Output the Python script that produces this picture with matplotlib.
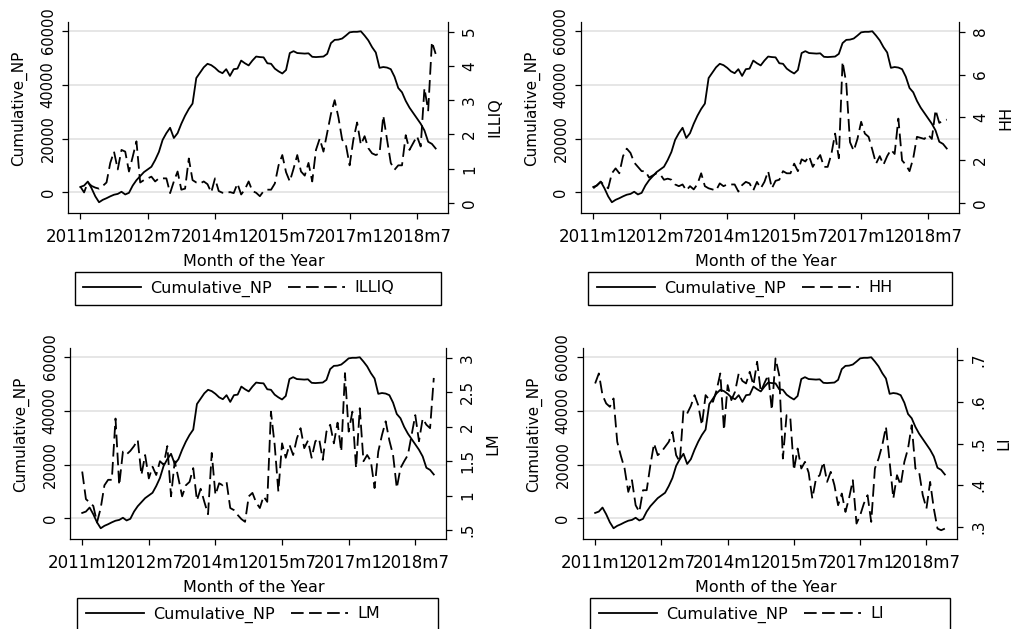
import numpy as np
import matplotlib
matplotlib.use("Agg")
import matplotlib.pyplot as plt
from matplotlib.patches import Rectangle

plt.rcParams["font.family"] = "DejaVu Sans"

# monthly observations 2011m1 .. 2018m12
months = np.arange(96)
xtick_pos = [0, 18, 36, 54, 72, 90]
xtick_labels = ["2011m1", "2012m7", "2014m1", "2015m7", "2017m1", "2018m7"]

cumulative_np = [
    2000, 2500, 4000, 1500, -1500, -3700, -2800, -2200, -1500, -900, -600, 200,
    -800, -200, 2500, 4500, 6000, 7500, 8500, 9500, 12000, 15000, 19500, 22000,
    24000, 20200, 22000, 25500, 28500, 31000, 33000, 42500, 44500, 46500, 47800, 47300,
    46300, 45000, 44300, 45800, 43300, 45800, 46000, 49000, 48000, 47200, 49000, 50500,
    50300, 50200, 48000, 47800, 46000, 45000, 44200, 45500, 51800, 52500, 51800, 51700,
    51600, 51700, 50400, 50300, 50400, 50500, 51500, 55500, 56700, 56800, 57200, 58300,
    59500, 59700, 59700, 59900, 58300, 56500, 54000, 52000, 46300, 46600, 46400, 45800,
    43000, 38800, 37200, 34000, 31500, 29500, 27500, 25500, 23000, 18800, 18000, 16300,
]
illiq = [
    0.48, 0.31, 0.6, 0.5, 0.45, 0.42, 0.5, 0.6, 1.17, 1.5, 0.98, 1.55,
    1.5, 0.92, 1.35, 1.8, 0.6, 0.67, 0.72, 0.77, 0.63, 0.72, 0.72, 0.72,
    0.29, 0.63, 0.92, 0.39, 0.42, 1.3, 0.67, 0.6, 0.57, 0.63, 0.55, 0.31,
    0.72, 0.35, 0.3, 0.29, 0.32, 0.29, 0.57, 0.25, 0.4, 0.63, 0.35, 0.3,
    0.2, 0.35, 0.39, 0.39, 0.57, 1.1, 1.4, 0.9, 0.63, 1.0, 1.4, 0.92,
    0.8, 1.17, 0.63, 1.55, 1.88, 1.5, 2.05, 2.6, 3.0, 2.5, 1.85, 1.7,
    1.1, 1.85, 2.35, 1.7, 1.95, 1.6, 1.45, 1.4, 1.45, 2.55, 1.85, 1.17,
    0.97, 1.1, 1.1, 1.98, 1.55, 1.75, 1.95, 1.65, 3.35, 2.7, 4.7, 4.35,
]
hh = [
    0.7, 0.85, 1.0, 0.85, 0.7, 1.4, 1.63, 1.4, 2.2, 2.55, 2.35, 1.9,
    1.7, 1.5, 1.5, 1.2, 1.3, 1.4, 1.35, 1.1, 1.15, 1.1, 0.88, 0.8,
    0.88, 0.6, 0.8, 0.65, 0.9, 1.4, 0.8, 0.7, 0.65, 0.6, 0.93, 0.8,
    0.88, 0.88, 0.88, 0.55, 0.85, 1.0, 0.93, 0.6, 1.0, 0.7, 1.0, 1.5,
    0.7, 1.05, 1.1, 1.5, 1.4, 1.4, 1.85, 1.5, 2.05, 1.95, 2.2, 1.7,
    2.0, 2.25, 1.7, 1.7, 2.3, 3.25, 2.1, 6.6, 5.6, 2.85, 2.45, 3.0,
    3.8, 3.25, 3.1, 2.5, 1.85, 2.2, 1.8, 2.2, 2.5, 2.3, 3.95, 2.0,
    1.8, 1.5, 2.1, 3.1, 3.05, 3.0, 3.2, 3.0, 4.35, 3.75, 3.85, 3.9,
]
lm = [
    1.35, 0.95, 0.9, 0.85, 0.61, 0.82, 1.15, 1.23, 1.23, 2.12, 1.15, 1.64,
    1.6, 1.65, 1.72, 1.81, 1.3, 1.59, 1.25, 1.42, 1.3, 1.5, 1.45, 1.72,
    0.99, 1.5, 1.25, 0.99, 1.15, 1.2, 1.4, 0.93, 1.1, 0.91, 0.73, 1.62,
    1.01, 1.18, 1.15, 1.2, 0.82, 0.79, 0.72, 0.66, 0.62, 0.99, 1.04, 0.9,
    0.82, 0.99, 0.91, 2.22, 1.74, 1.06, 1.76, 1.55, 1.74, 1.59, 1.83, 1.98,
    1.69, 1.8, 1.55, 1.79, 1.83, 1.52, 1.93, 2.03, 1.76, 2.06, 1.64, 2.78,
    1.93, 2.22, 1.4, 2.27, 1.5, 1.59, 1.5, 1.11, 1.64, 1.88, 2.08, 1.8,
    1.59, 1.11, 1.4, 1.5, 1.59, 1.88, 2.17, 1.79, 2.12, 2.03, 1.98, 2.71,
]
li = [
    0.644, 0.668, 0.616, 0.596, 0.588, 0.608, 0.504, 0.47, 0.44, 0.384, 0.412, 0.352,
    0.336, 0.388, 0.388, 0.448, 0.5, 0.472, 0.48, 0.492, 0.504, 0.528, 0.472, 0.456,
    0.58, 0.572, 0.59, 0.616, 0.592, 0.544, 0.616, 0.605, 0.6, 0.628, 0.668, 0.532,
    0.64, 0.604, 0.624, 0.668, 0.65, 0.644, 0.672, 0.64, 0.696, 0.624, 0.645, 0.664,
    0.58, 0.704, 0.664, 0.464, 0.568, 0.564, 0.436, 0.488, 0.44, 0.456, 0.43, 0.368,
    0.416, 0.424, 0.456, 0.408, 0.432, 0.4, 0.352, 0.38, 0.336, 0.37, 0.412, 0.308,
    0.328, 0.356, 0.376, 0.312, 0.44, 0.464, 0.496, 0.54, 0.456, 0.368, 0.424, 0.4,
    0.456, 0.488, 0.544, 0.44, 0.432, 0.376, 0.344, 0.408, 0.344, 0.296, 0.292, 0.296,
]

np_ticks = [0, 20000, 40000, 60000]
illiq_ticks = [0, 1, 2, 3, 4, 5]
illiq_labels = ["0", "1", "2", "3", "4", "5"]
hh_ticks = [0, 2, 4, 6, 8]
hh_labels = ["0", "2", "4", "6", "8"]
lm_ticks = [0.5, 1, 1.5, 2, 2.5, 3]
lm_labels = [".5", "1", "1.5", "2", "2.5", "3"]
li_ticks = [0.3, 0.4, 0.5, 0.6, 0.7]
li_labels = [".3", ".4", ".5", ".6", ".7"]

W, H = 1024, 629
fig = plt.figure(figsize=(W / 100, H / 100), dpi=100)


def px_rect(x0, y0, x1, y1):
    return [x0 / W, 1 - y1 / H, (x1 - x0) / W, (y1 - y0) / H]


def panel(box, name, values, rticks, rlabels, rlim, legbox, leg_x):
    x0, y0, x1, y1 = box
    w, h = x1 - x0, y1 - y0
    ax = fig.add_axes(px_rect(*box))
    ax2 = ax.twinx()

    solid, = ax.plot(months, cumulative_np, color="black", lw=1.3)
    dashed, = ax2.plot(months, values, color="black", lw=1.3, ls=(0, (7, 3)))

    ax.set_xlim(-3.3, 98.3)
    ax.set_ylim(-7700, 63350)
    ax2.set_ylim(*rlim)
    ax.set_xticks(xtick_pos, xtick_labels)
    ax.set_yticks(np_ticks, [str(t) for t in np_ticks])
    ax2.set_yticks(rticks, rlabels)

    ax.grid(axis="y", color="#e6e6e6", lw=1.4)
    ax.set_axisbelow(True)
    for s in ("top", "right"):
        ax.spines[s].set_visible(False)
    for s in ("top", "left", "bottom"):
        ax2.spines[s].set_visible(False)
    for sp in (ax.spines["left"], ax.spines["bottom"], ax2.spines["right"]):
        sp.set_linewidth(0.9)

    ax.tick_params(axis="x", length=4.5, width=0.9, pad=6, labelsize=12)
    ax.tick_params(axis="y", length=4.5, width=0.9, pad=4.5, labelsize=10.5,
                   labelrotation=90)
    ax2.tick_params(axis="y", length=4.5, width=0.9, pad=5.5, labelsize=11,
                    labelrotation=90)
    for t in ax.get_yticklabels() + ax2.get_yticklabels():
        t.set_va("center")

    ax.set_xlabel("Month of the Year", fontsize=11.5, va="center")
    ax.xaxis.set_label_coords(0.49, -49 / h)
    ax.set_ylabel("Cumulative_NP", fontsize=11, va="center")
    ax.yaxis.set_label_coords(-49 / w, 0.55)
    ax2.set_ylabel(name, fontsize=11.5, va="center", rotation=90)
    ax2.yaxis.set_label_coords(1 + 47 / w, 0.5)

    bx0, by0, bx1, by1 = legbox
    ax.legend([solid, dashed], ["Cumulative_NP", name], ncol=2,
              loc="center left", bbox_to_anchor=(leg_x / W, 1 - (by0 + 16.5) / H),
              bbox_transform=fig.transFigure, frameon=False, fontsize=11.5,
              handlelength=3.6, handletextpad=0.6, columnspacing=1.0,
              borderpad=0, borderaxespad=0)
    fig.add_artist(Rectangle((bx0 / W, 1 - by1 / H), (bx1 - bx0) / W,
                             (by1 - by0) / H, transform=fig.transFigure,
                             fill=False, ec="black", lw=1.0))


panel((68, 22, 448, 213), "ILLIQ", illiq, illiq_ticks, illiq_labels,
      (-0.29, 5.28), (75, 272, 441, 305), 83)
panel((581, 22, 959, 213), "HH", hh, hh_ticks, hh_labels,
      (-0.45, 8.45), (588, 272, 952, 305), 597)
panel((70, 348, 446, 539), "LM", lm, lm_ticks, lm_labels,
      (0.37, 3.145), (77, 598, 438, 631), 86)
panel((583, 348, 957, 539), "LI", li, li_ticks, li_labels,
      (0.271, 0.729), (590, 598, 950, 631), 599)

fig.savefig("out.png", dpi=100)
